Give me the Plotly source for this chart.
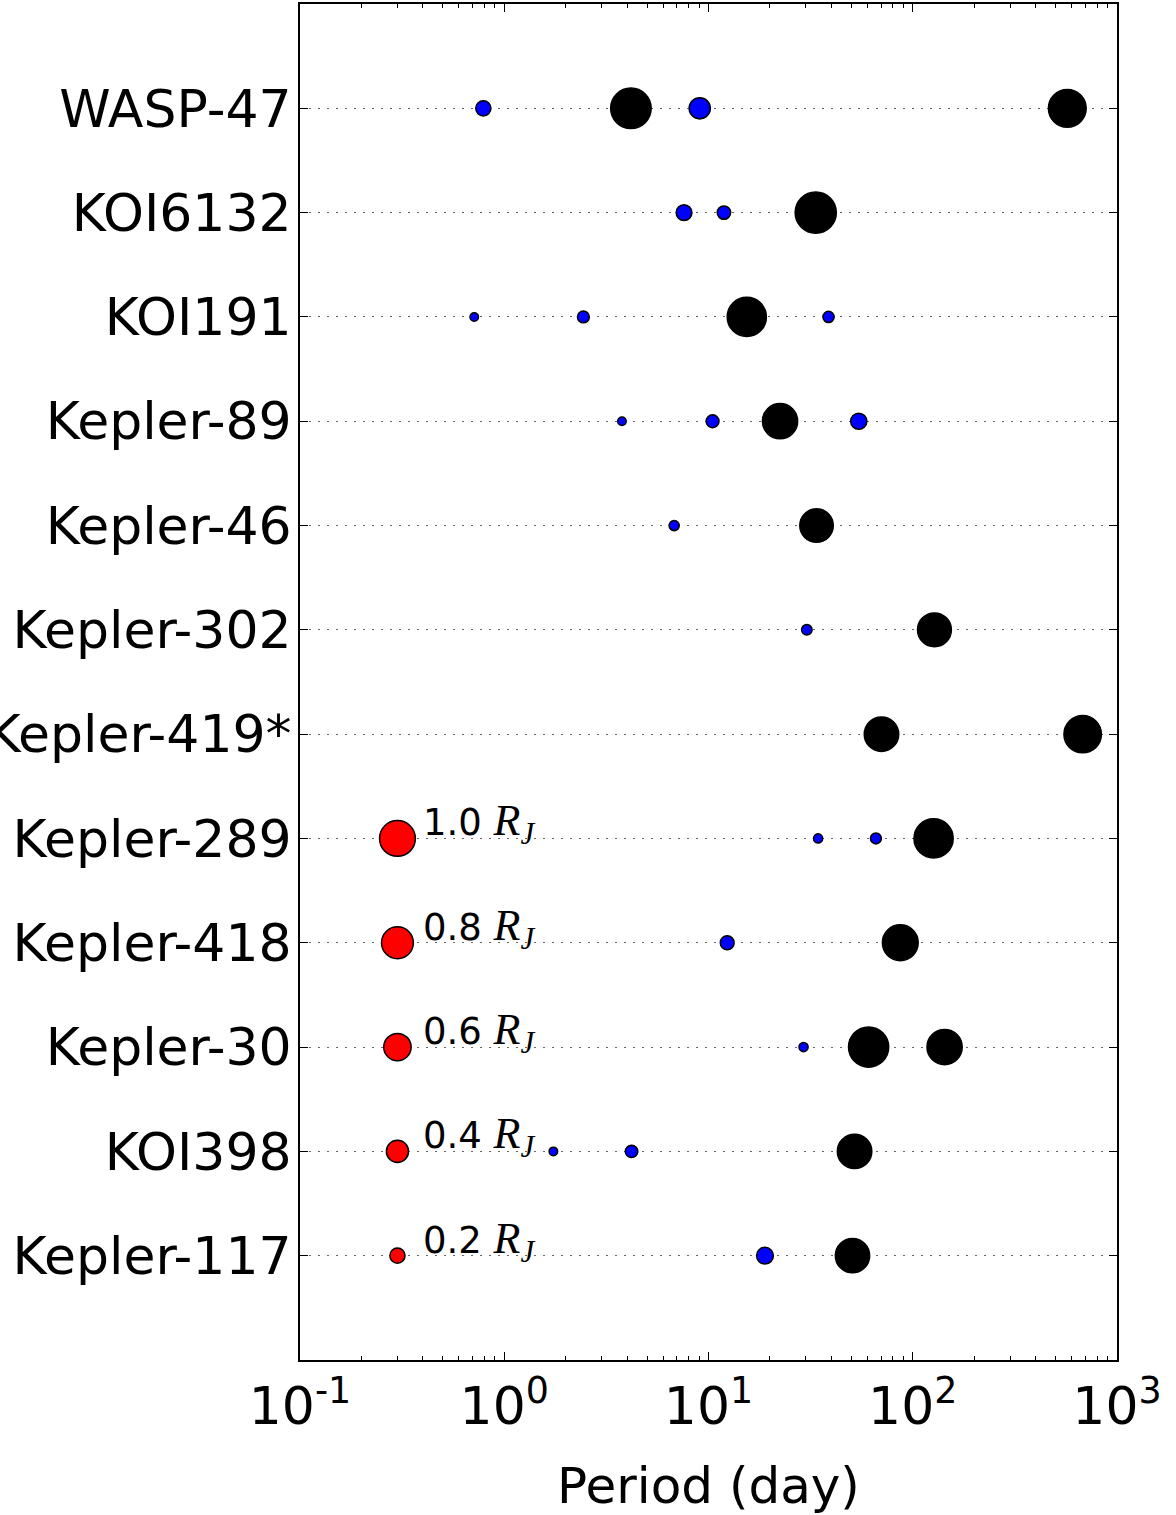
import math
import plotly.graph_objects as go

# ---------------- data ----------------
systems = ["WASP-47", "KOI6132", "KOI191", "Kepler-89", "Kepler-46", "Kepler-302",
           "Kepler-419*", "Kepler-289", "Kepler-418", "Kepler-30", "KOI398", "Kepler-117"]

periods = [
    [0.79, 4.17, 9.06, 571],
    [7.59, 11.9, 33.5],
    [0.713, 2.44, 15.4, 38.7],
    [3.77, 10.47, 22.4, 54.4],
    [6.79, 33.8],
    [30.3, 127.7],
    [70.3, 679],
    [34.4, 66.0, 126.5],
    [12.35, 86.9],
    [29.2, 60.8, 143.2],
    [1.74, 4.2, 51.9],
    [18.9, 50.7],
]

radii_rj = [
    [0.20, 1.27, 0.37, 1.11],
    [0.216, 0.16, 1.31],
    [0.072, 0.128, 1.19, 0.115],
    [0.072, 0.148, 0.97, 0.225],
    [0.098, 0.88],
    [0.104, 0.90],
    [0.93, 1.09],
    [0.082, 0.11, 1.19],
    [0.17, 1.0],
    [0.082, 1.25, 0.97],
    [0.072, 0.14, 0.93],
    [0.24, 0.92],
]

legend_radii = [1.0, 0.8, 0.6, 0.4, 0.2]
legend_rows = ["Kepler-289", "Kepler-418", "Kepler-30", "KOI398", "Kepler-117"]
legend_period = 0.3
giant_threshold = 0.5

x_tickvals = [0.1, 1, 10, 100, 1000]
x_ticktext = ["10<sup>-1</sup>", "10<sup>0</sup>", "10<sup>1</sup>", "10<sup>2</sup>", "10<sup>3</sup>"]

# ---------------- styling helpers ----------------
EDGE = 1.5
SCALE = 37.3  # px diameter for 1 R_J (marker area proportional to radius)


def msize(r):
    return SCALE * math.sqrt(r) - EDGE


xs, ys, sizes, colors = [], [], [], []
for i, (ps, rs) in enumerate(zip(periods, radii_rj)):
    for p, r in zip(ps, rs):
        xs.append(p)
        ys.append(i)
        sizes.append(msize(r))
        colors.append("#000000" if r >= giant_threshold else "#0000ff")

fig = go.Figure()
fig.add_trace(go.Scatter(
    x=xs, y=ys, mode="markers",
    marker=dict(size=sizes, color=colors, line=dict(color="black", width=EDGE), opacity=1),
    hoverinfo="x+y",
))

leg_y = [systems.index(n) for n in legend_rows]
fig.add_trace(go.Scatter(
    x=[legend_period] * len(legend_radii), y=leg_y, mode="markers",
    marker=dict(size=[msize(r) for r in legend_radii], color="#ff0000", opacity=1,
                line=dict(color="black", width=EDGE)),
    hoverinfo="skip",
))

for r, yv in zip(legend_radii, leg_y):
    fig.add_annotation(
        x=math.log10(legend_period), y=yv, xref="x", yref="y",
        text=(f"{r:.1f} <span style='font-family:Liberation Serif;font-size:44px'>"
              f"<i>R</i><sub><i>J</i></sub></span>"),
        showarrow=False, xanchor="left", yanchor="bottom",
        xshift=24, yshift=-15,
        font=dict(family="DejaVu Sans", size=37, color="black"),
    )

minor_vals = []
for d in [0.1, 1, 10, 100]:
    for k in range(2, 10):
        minor_vals.append(d * k)

fig.update_layout(
    width=1176, height=1515,
    margin=dict(l=300, r=59, t=4, b=155),
    paper_bgcolor="white", plot_bgcolor="white",
    showlegend=False,
    font=dict(family="DejaVu Sans", color="black"),
)

fig.update_xaxes(
    type="log", range=[-1, 3], automargin=False,
    tickmode="array", tickvals=x_tickvals, ticktext=x_ticktext,
    tickfont=dict(size=52, family="DejaVu Sans"),
    ticks="inside", ticklen=8, tickwidth=1, tickcolor="black",
    showline=True, linewidth=2, linecolor="black", mirror="allticks",
    showgrid=False, zeroline=False,
    minor=dict(tickmode="array", tickvals=minor_vals, ticks="inside", ticklen=4,
               tickwidth=1, tickcolor="black", showgrid=False),
    title=dict(text="Period (day)", font=dict(size=50, family="DejaVu Sans"), standoff=33),
)

fig.update_yaxes(
    range=[12, -1], automargin=False,
    tickmode="array", tickvals=list(range(len(systems))), ticktext=systems,
    tickfont=dict(size=52, family="DejaVu Sans"),
    ticks="inside", ticklen=8, tickwidth=1, tickcolor="black",
    ticklabelstandoff=-4,
    showline=True, linewidth=2, linecolor="black", mirror="allticks",
    showgrid=True, gridcolor="#666666", gridwidth=1, griddash="2px,7px",
    zeroline=False,
)

fig.write_html("out.html", config={"displayModeBar": False},
               post_script="document.body.style.margin='0';")
